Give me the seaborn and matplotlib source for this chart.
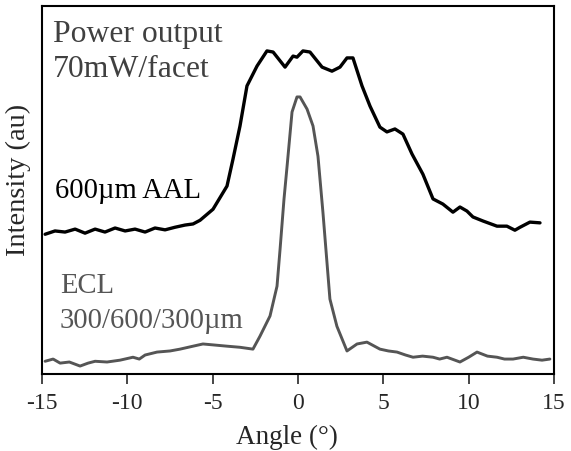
import numpy as np
import pandas as pd
import matplotlib
matplotlib.use('Agg')
import matplotlib.pyplot as plt
import seaborn as sns

# 600um AAL far-field profile (angle in degrees, intensity in au)
aal_angle = [-14.82, -14.24, -13.65, -13.06, -12.48, -11.89, -11.31, -10.72, -10.13, -9.55,
             -8.96, -8.38, -7.79, -7.21, -6.62, -6.15, -5.74, -4.98, -4.16, -3.81,
             -3.40, -2.99, -2.40, -1.82, -1.46, -0.76, -0.29, -0.06, 0.29, 0.70,
             1.41, 1.99, 2.46, 2.87, 3.22, 3.75, 4.22, 4.80, 5.21, 5.68,
             6.15, 6.68, 7.32, 7.91, 8.49, 9.08, 9.49, 9.90, 10.25, 10.84,
             11.66, 12.24, 12.71, 13.01, 13.59, 14.18]
aal_int = [0.380, 0.389, 0.386, 0.394, 0.383, 0.394, 0.386, 0.397, 0.389, 0.394,
           0.386, 0.397, 0.392, 0.399, 0.405, 0.408, 0.418, 0.448, 0.511, 0.584,
           0.674, 0.783, 0.837, 0.878, 0.875, 0.834, 0.864, 0.861, 0.878, 0.875,
           0.834, 0.823, 0.834, 0.859, 0.859, 0.783, 0.728, 0.671, 0.658, 0.666,
           0.652, 0.598, 0.543, 0.476, 0.462, 0.440, 0.454, 0.443, 0.427, 0.416,
           0.402, 0.402, 0.391, 0.399, 0.413, 0.411]

# ECL 300/600/300um far-field profile
ecl_angle = [-14.82, -14.35, -13.94, -13.40, -12.77, -12.30, -11.89, -11.19, -10.43, -9.67,
             -9.30, -8.96, -8.26, -7.50, -6.91, -6.15, -5.57, -4.86, -4.16, -3.40,
             -2.64, -2.23, -1.64, -1.23, -1.05, -0.82, -0.64, -0.35, -0.06, 0.12,
             0.53, 0.88, 1.17, 1.46, 1.87, 2.28, 2.87, 3.46, 4.04, 4.80,
             5.30, 5.80, 6.30, 6.74, 7.30, 7.91, 8.30, 8.73, 9.49, 10.00,
             10.49, 11.10, 11.66, 12.10, 12.60, 13.20, 13.77, 14.30, 14.76]
ecl_int = [0.035, 0.041, 0.030, 0.033, 0.022, 0.030, 0.035, 0.033, 0.038, 0.046,
           0.041, 0.052, 0.060, 0.063, 0.068, 0.076, 0.082, 0.079, 0.076, 0.073,
           0.068, 0.103, 0.158, 0.239, 0.340, 0.476, 0.565, 0.712, 0.753, 0.753,
           0.720, 0.674, 0.592, 0.440, 0.204, 0.130, 0.063, 0.082, 0.087, 0.068,
           0.063, 0.060, 0.052, 0.046, 0.049, 0.046, 0.041, 0.046, 0.033, 0.046,
           0.060, 0.049, 0.046, 0.041, 0.041, 0.046, 0.041, 0.038, 0.041]

x_ticks = [-15, -10, -5, 0, 5, 10, 15]

sns.set_style('white')
plt.rcParams['font.family'] = ['Liberation Serif', 'DejaVu Serif']

fig = plt.figure(figsize=(5.71, 4.52), dpi=100)
ax = fig.add_axes([0.0736, 0.170, 0.8966, 0.8145])

aal = pd.DataFrame({'angle': aal_angle, 'intensity': aal_int})
ecl = pd.DataFrame({'angle': ecl_angle, 'intensity': ecl_int})
sns.lineplot(data=aal, x='angle', y='intensity', color='black', linewidth=2.4, ax=ax)
sns.lineplot(data=ecl, x='angle', y='intensity', color='#555555', linewidth=2.1, ax=ax)

ax.set_xlim(-15, 15)
ax.set_ylim(0, 1)
ax.set_xticks(x_ticks)
ax.set_xticklabels([str(t) for t in x_ticks])
ax.set_yticks([])
ax.tick_params(axis='x', direction='out', length=7, width=1.2, labelsize=17,
               bottom=True, pad=6)
for s in ax.spines.values():
    s.set_color('black')
    s.set_linewidth(1.5)

ax.set_xlabel('Angle (°)', fontsize=19.5, labelpad=4)
ax.xaxis.set_label_coords(0.478, -0.135)
ax.set_ylabel('Intensity (au)', fontsize=20.5)
ax.yaxis.set_label_coords(-0.022, 0.53)

ax.text(0.021, 0.905, 'Power output', transform=ax.transAxes, fontsize=22.8,
        color='#404040', va='baseline')
ax.text(0.021, 0.810, '70mW/facet', transform=ax.transAxes, fontsize=22.8,
        color='#404040', va='baseline')
ax.text(0.025, 0.481, '600µm AAL', transform=ax.transAxes, fontsize=20.6,
        color='black', va='baseline')
ax.text(0.035, 0.223, 'ECL', transform=ax.transAxes, fontsize=20.6,
        color='#555555', va='baseline')
ax.text(0.035, 0.128, '300/600/300µm', transform=ax.transAxes, fontsize=20.6,
        color='#555555', va='baseline')

fig.savefig('out.png', dpi=100)
